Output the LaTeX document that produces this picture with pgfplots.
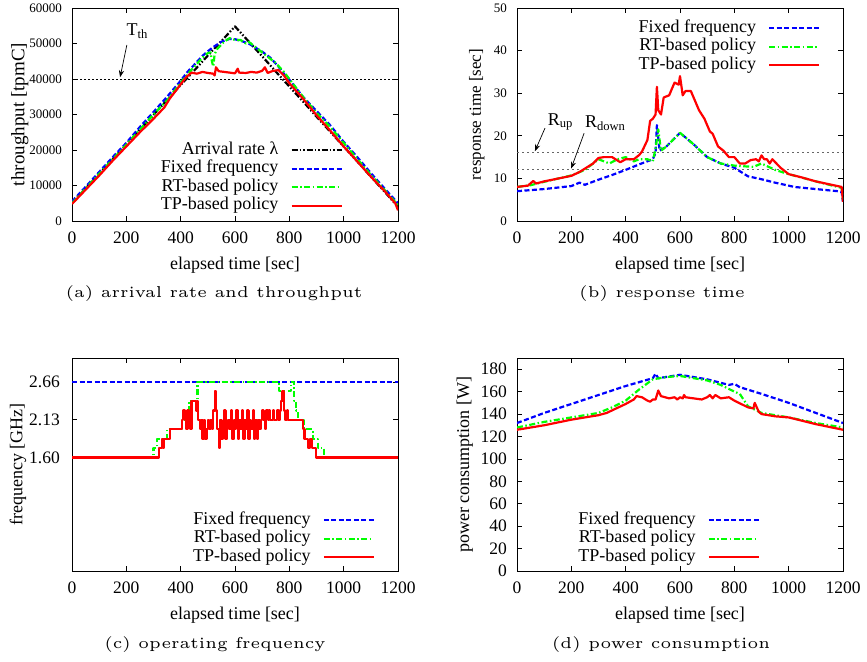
\documentclass[border=0pt]{standalone}
\usepackage{fontspec}
\newfontfamily\tnr{Liberation Serif}
\usepackage{graphicx}
\usepackage{pgfplots}
\pgfplotsset{compat=1.18}
\usetikzlibrary{arrows.meta}

\newcommand{\bigtnr}{\tnr\fontsize{18}{20}\selectfont}

\pgfplotsset{
  gp/.style={
    scale only axis, width=326pt, height=213pt,
    xmin=0, xmax=1200, xtick={0,200,...,1200},
    tick align=inside, major tick length=5pt,
    axis line style={line width=0.9pt},
    every tick/.style={black, line width=0.8pt},
    font=\bigtnr,
    /pgf/number format/assume math mode=true,
    /pgf/number format/1000 sep={},
    scaled ticks=false,
    xticklabel style={font=\tnr\fontsize{17.5}{18}\selectfont, inner sep=0pt, yshift=-11pt},
    yticklabel style={font=\tnr\fontsize{17.5}{18}\selectfont, inner sep=0pt},
    xlabel={elapsed time [sec]},
    xlabel style={at={(axis description cs:0.5,-0.207)}, anchor=center},
    legend plot pos=right, legend cell align=right,
    legend image code/.code={\draw[##1] (0pt,0pt) -- (50pt,0pt);},
    legend style={draw=none, fill=none, anchor=north east, column sep=11pt,
      row sep=0.5pt, font=\bigtnr,
      nodes={inner sep=1pt, text height=12pt, text depth=4pt}},
  },
  arr/.style={black, line width=2.2pt, line join=round,
    dash pattern=on 6pt off 2pt on 1.5pt off 2pt on 1.5pt off 2pt},
  fix/.style={blue, line width=2.2pt, line join=round, dash pattern=on 5pt off 2.5pt},
  rt/.style={green, line width=2.2pt, line join=round,
    dash pattern=on 6pt off 2.5pt on 1.5pt off 2.5pt},
  tp/.style={red, line width=2.2pt, line join=round},
}

\begin{document}
\begin{tikzpicture}[x=1pt,y=1pt]
\path[use as bounding box] (0,0) rectangle (867,-661);

% (a) arrival rate and throughput
\begin{axis}[gp, at={(72pt,-221pt)}, anchor=south west,
  ymin=0, ymax=60000, ytick={0,10000,...,60000},
  yticklabel style={font=\tnr\fontsize{13}{14}\selectfont, xshift=-10pt},
  ylabel={throughput [tpmC]},
  ylabel style={at={(axis description cs:-0.16,0.5)}, anchor=center, font=\tnr\fontsize{19}{21}\selectfont},
  legend style={at={(axis description cs:0.84,0.385)}}]
\addplot[black, line width=0.7pt, dash pattern=on 2pt off 2pt, forget plot] coordinates {(0,40000) (1200,40000)};
\addplot[arr] coordinates {
(0,5000) (50,9200) (100,13300) (150,17500) (200,21600) (250,25800) (300,29900)
(350,34100) (400,38300) (450,42400) (500,46600) (550,50700) (600,54800) (650,50600)
(700,46400) (750,42100) (800,37900) (850,33700) (900,29400) (950,25200) (1000,21000)
(1050,16800) (1100,12500) (1150,8300) (1200,4000)};
\addplot[fix] coordinates {
(0,5500) (50,9600) (100,13800) (150,18000) (200,22000) (250,26500) (300,30700)
(350,35000) (400,39500) (425,42000) (450,44000) (480,46500) (500,47800) (520,49000)
(550,50500) (580,51300) (600,51200) (620,50800) (650,50000) (700,47700) (730,46000)
(760,43500) (780,41500) (800,39800) (850,35000) (900,31000) (950,27000) (1000,22300)
(1050,18000) (1100,13500) (1150,9200) (1200,5000)};
\addplot[rt] coordinates {
(0,5000) (100,13300) (200,21500) (300,30000) (350,34000) (400,39000) (450,43500)
(480,46000) (500,47300) (510,47500) (515,45000) (520,43500) (525,47000) (535,48500)
(560,50500) (580,51500) (600,51000) (620,51000) (640,50000) (650,50500) (700,47500)
(750,44500) (780,42000) (800,40000) (850,35000) (900,30500) (950,26500) (1000,22000)
(1050,17500) (1100,13000) (1150,8800) (1200,4500)};
\addplot[tp] coordinates {
(0,4800) (50,8800) (100,12800) (150,17000) (200,21000) (250,25000) (300,28800)
(340,32000) (360,34500) (400,38500) (420,40500) (440,41800) (460,41500) (480,42000)
(500,41700) (520,41500) (525,41000) (530,43300) (540,42200) (560,42000) (580,41800)
(600,41600) (610,42900) (615,41800) (640,41700) (660,42000) (680,41800) (700,42300)
(710,43300) (720,41700) (740,42300) (760,42500) (780,41000) (800,38800) (850,34500)
(900,29800) (950,25500) (1000,21000) (1050,16800) (1100,12500) (1150,8500)
(1190,5000) (1200,3000)};
\legend{Arrival rate λ, Fixed frequency, RT-based policy, TP-based policy}
\draw[-{Stealth[length=7pt]}, line width=0.7pt] (axis cs:202,49600) -- (axis cs:177,40500);
\node[font=\bigtnr] at (axis cs:240,53500) {T\textsubscript{th}};
\end{axis}

% (b) response time
\begin{axis}[gp, at={(517pt,-221pt)}, anchor=south west,
  ymin=0, ymax=50, ytick={0,10,...,50},
  yticklabel style={font=\tnr\fontsize{13}{14}\selectfont, xshift=-10pt},
  ylabel={response time [sec]},
  ylabel style={at={(axis description cs:-0.123,0.5)}, anchor=center, font=\tnr\fontsize{17}{19}\selectfont},
  legend style={at={(axis description cs:0.94,0.958)}}]
\addplot[black!60, line width=1.1pt, dash pattern=on 1.5pt off 3.5pt, forget plot] coordinates {(0,16) (1200,16)};
\addplot[black!60, line width=1.1pt, dash pattern=on 1.5pt off 3.5pt, forget plot] coordinates {(0,12) (1200,12)};
\addplot[fix] coordinates {
(0,7) (100,7.5) (200,8.2) (230,9) (250,8.5) (300,9.7) (350,10.8) (400,12) (450,13.3)
(500,14.5) (510,16) (515,22.5) (525,16.5) (550,17.5) (600,20.7) (650,18) (700,15)
(750,13.5) (800,12.5) (850,10.5) (900,9.8) (950,9) (1000,8.3) (1020,8) (1100,7.5)
(1180,7) (1195,6.8) (1200,4.5)};
\addplot[rt] coordinates {
(0,8) (50,8.4) (100,9.2) (200,10.7) (250,12) (300,14.5) (340,13.5) (370,14.5) (400,15)
(430,14) (450,14.5) (480,14.5) (500,14) (510,17) (520,21.5) (530,16.5) (550,17.5)
(600,20.7) (650,18) (700,15) (750,13.5) (800,13) (870,12.7) (900,13.5) (950,12)
(1000,11) (1100,9.3) (1180,8) (1195,7.8) (1200,5)};
\addplot[tp] coordinates {
(0,8) (40,8.3) (60,9.4) (70,8.8) (100,9.3) (200,10.6) (230,11.5) (280,13.5) (300,14.8)
(320,15) (350,15) (380,13.8) (400,14.5) (430,14.5) (450,15.5) (460,16.3) (480,19)
(490,23.5) (500,24) (510,25) (515,31.5) (520,26) (530,25) (540,29) (560,29.5)
(570,31) (580,32.5) (595,32) (600,34) (610,29.5) (620,30.5) (640,30.5) (670,26)
(690,24) (710,21) (720,20.5) (740,17.5) (760,16.5) (780,15) (800,15) (820,13.5)
(840,13.5) (860,14.3) (880,14.5) (890,14) (900,15.4) (910,14.5) (920,14.5) (930,13.5)
(940,14.5) (970,12.5) (1000,11) (1050,10.2) (1100,9.3) (1180,8.2) (1195,8) (1200,4.5)};
\legend{Fixed frequency, RT-based policy, TP-based policy}
\draw[-{Stealth[length=7pt]}, line width=0.7pt] (axis cs:103,21.8) -- (axis cs:66,16.4);
\node[font=\bigtnr] at (axis cs:160,23.3) {R\textsubscript{up}};
\draw[-{Stealth[length=7pt]}, line width=0.7pt] (axis cs:247,20.6) -- (axis cs:199,12.3);
\node[font=\bigtnr] at (axis cs:325,23) {R\textsubscript{down}};
\end{axis}

% (c) operating frequency
\begin{axis}[gp, at={(72pt,-571pt)}, anchor=south west,
  ymin=0, ymax=3, ytick={1.60,2.13,2.66}, yticklabels={1.60,2.13,2.66},
  yticklabel style={xshift=-12pt},
  ylabel={frequency [GHz]},
  ylabel style={at={(axis description cs:-0.166,0.5)}, anchor=center},
  legend style={at={(axis description cs:0.939,0.291)}}]
\addplot[fix] coordinates {(0,2.66) (1200,2.66)};
\addplot[rt, const plot] coordinates {
(0,1.60) (300,1.73) (312,1.86) (350,2.00) (405,2.13) (425,2.26) (432,2.40) (462,2.66)
(763,2.53) (805,2.66) (818,2.40) (825,2.26) (832,2.13) (855,2.00) (886,1.86)
(905,1.73) (929,1.60) (1200,1.60)};
\addplot[tp, const plot] coordinates {
(0,1.60) (320,1.73) (330,1.86) (335,1.73) (340,1.86) (360,2.00) (405,2.13) (410,2.26)
(415,2.13) (420,2.00) (425,2.26) (430,2.13) (435,2.00) (440,2.40) (455,2.26) (460,2.40)
(465,2.13) (470,2.00) (475,2.13) (480,1.86) (485,2.13) (490,1.86) (495,2.00) (500,2.13)
(505,2.00) (510,2.13) (515,2.00) (520,2.26) (525,2.53) (530,2.26) (535,2.00) (540,1.73)
(545,2.13) (550,1.86) (555,2.00) (560,2.26) (565,1.86) (570,2.00) (575,2.13) (580,2.00)
(585,2.26) (590,1.86) (595,2.13) (600,2.00) (605,2.26) (610,1.86) (615,2.13) (620,2.00)
(625,2.26) (630,1.86) (635,2.13) (640,2.00) (645,2.26) (650,1.86) (655,2.13) (660,2.00)
(665,2.26) (670,1.86) (675,2.13) (680,1.86) (685,2.13) (690,2.00) (695,2.13) (700,2.26)
(705,2.13) (710,2.00) (715,2.26) (720,2.13) (725,2.26) (730,2.13) (740,2.26) (745,2.13)
(755,2.26) (760,2.13) (765,2.26) (770,2.40) (775,2.53) (780,2.26) (785,2.13) (790,2.26)
(795,2.13) (849,2.00) (856,1.86) (870,1.73) (876,1.86) (882,1.73) (898,1.60) (1200,1.60)};
\legend{Fixed frequency, RT-based policy, TP-based policy}
\end{axis}

% (d) power consumption
\begin{axis}[gp, at={(517pt,-571pt)}, anchor=south west,
  ymin=0, ymax=190, ytick={0,20,...,180},
  yticklabel style={xshift=-10pt},
  ylabel={power consumption [W]},
  ylabel style={at={(axis description cs:-0.16,0.5)}, anchor=center},
  legend style={at={(axis description cs:0.755,0.291)}}]
\addplot[fix] coordinates {
(0,132) (100,141) (200,149) (300,157) (400,165) (500,172) (510,176) (520,172)
(600,175) (700,171) (780,166) (800,167) (820,164) (900,158) (1000,150) (1100,141)
(1200,132)};
\addplot[rt] coordinates {
(0,128) (100,133) (200,137) (300,141) (350,146) (400,152) (450,162) (500,171)
(550,173) (600,174) (700,170) (750,166) (800,160) (820,158) (850,147) (900,141)
(1000,137) (1100,132) (1200,128)};
\addplot[tp] coordinates {
(0,126) (100,130) (200,135) (300,139) (330,141) (400,149) (430,153) (440,156)
(460,155) (480,152) (490,151) (500,153) (510,153) (520,161) (530,156) (560,154)
(580,155) (590,153) (600,155) (610,154) (615,157) (620,155) (650,154) (680,153)
(700,155) (710,157) (720,154) (730,157) (750,154) (780,155) (800,152) (850,146)
(870,145) (875,150) (890,142) (900,140) (950,138) (1000,137) (1050,134) (1100,131)
(1200,126)};
\legend{Fixed frequency, RT-based policy, TP-based policy}
\end{axis}

% captions
\node at (214,-294) {\scalebox{3.15}{\fontsize{5}{6}\selectfont (a) arrival rate and throughput}};
\node at (662,-294) {\scalebox{3.15}{\fontsize{5}{6}\selectfont (b) response time}};
\node at (215,-645) {\scalebox{3.15}{\fontsize{5}{6}\selectfont (c) operating frequency}};
\node at (661,-645) {\scalebox{3.15}{\fontsize{5}{6}\selectfont (d) power consumption}};
\end{tikzpicture}
\end{document}
